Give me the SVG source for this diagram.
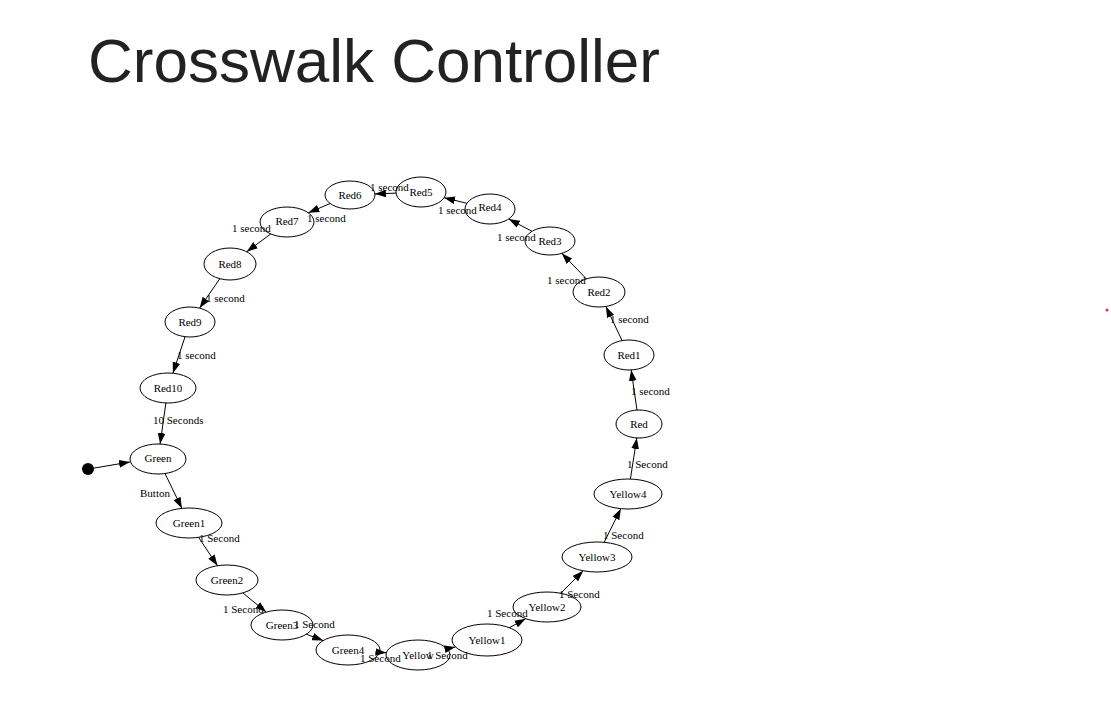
<svg xmlns="http://www.w3.org/2000/svg" width="1111" height="726" viewBox="0 0 1111 726">
<defs>
<style>
.title{font-family:"Liberation Sans",Arial,sans-serif;font-size:62px;fill:#222}
.node ellipse{fill:none;stroke:#000;stroke-width:1}
.node text{font-family:"Liberation Serif","Times New Roman",serif;font-size:11px;fill:#000;text-anchor:middle}
.edges line{stroke:#000;stroke-width:1;marker-end:url(#ah)}
.lbl{font-family:"Liberation Serif","Times New Roman",serif;font-size:11px;fill:#000}
</style>
<marker id="ah" markerUnits="userSpaceOnUse" markerWidth="11" markerHeight="8" viewBox="0 0 10 7" refX="10" refY="3.5" orient="auto">
<path d="M0,0 L10,3.5 L0,7 Z" fill="#000"/>
</marker>
</defs>
<rect width="1111" height="726" fill="#fff"/>
<text class="title" x="88" y="82">Crosswalk Controller</text>
<circle cx="1107" cy="310" r="1.5" fill="#e53935"/>

<g id="edges" class="edges">
<line x1="93.9" y1="468.1" x2="130" y2="462"/>
<line x1="165.9" y1="403" x2="160.1" y2="444"/>
<line x1="165" y1="473.5" x2="181.9" y2="508.4"/>
<line x1="198.6" y1="537.4" x2="217.5" y2="565.7"/>
<line x1="242.8" y1="592.9" x2="266.2" y2="612.1"/>
<line x1="306.4" y1="634.2" x2="323.1" y2="640.6"/>
<line x1="376.6" y1="652.1" x2="386.4" y2="652.7"/>
<line x1="447" y1="648.7" x2="455.4" y2="646.9"/>
<line x1="509.4" y1="627.7" x2="525.7" y2="618.7"/>
<line x1="560.7" y1="593.3" x2="583.2" y2="570.8"/>
<line x1="604.2" y1="542.3" x2="620.8" y2="508.7"/>
<line x1="630.4" y1="479" x2="636.8" y2="437.9"/>
<line x1="637" y1="410.1" x2="631.2" y2="369.9"/>
<line x1="622.1" y1="340.6" x2="605.9" y2="306.5"/>
<line x1="586.4" y1="278.9" x2="561.8" y2="253.3"/>
<line x1="531.9" y1="231.3" x2="508.7" y2="219"/>
<line x1="466.9" y1="203.3" x2="444.1" y2="197.7"/>
<line x1="396.1" y1="193.1" x2="374.9" y2="193.9"/>
<line x1="330.1" y1="203.5" x2="308.4" y2="212.8"/>
<line x1="270.7" y1="234" x2="246.7" y2="251.7"/>
<line x1="219.8" y1="278.7" x2="199.6" y2="308.1"/>
<line x1="185.1" y1="336.7" x2="172.9" y2="373.2"/>
</g>

<g id="edge-labels">
<text class="lbl" x="153" y="424">10 Seconds</text>
<text class="lbl" x="140" y="497">Button</text>
<text class="lbl" x="199" y="542">1 Second</text>
<text class="lbl" x="223" y="613">1 Second</text>
<text class="lbl" x="294" y="628">1 Second</text>
<text class="lbl" x="360" y="662">1 Second</text>
<text class="lbl" x="427" y="659">1 Second</text>
<text class="lbl" x="487" y="617">1 Second</text>
<text class="lbl" x="559" y="598">1 Second</text>
<text class="lbl" x="603" y="539">1 Second</text>
<text class="lbl" x="627" y="468">1 Second</text>
<text class="lbl" x="631" y="395">1 second</text>
<text class="lbl" x="610" y="323">1 second</text>
<text class="lbl" x="547" y="284">1 second</text>
<text class="lbl" x="497" y="241">1 second</text>
<text class="lbl" x="438" y="214">1 second</text>
<text class="lbl" x="370" y="191">1 second</text>
<text class="lbl" x="307" y="222">1 second</text>
<text class="lbl" x="232" y="232">1 second</text>
<text class="lbl" x="206" y="302">1 second</text>
<text class="lbl" x="177" y="359">1 second</text>
</g>

<g id="start"><circle cx="88" cy="469" r="6" fill="#000"/></g>
<g id="Green" class="node"><ellipse cx="158" cy="459" rx="28" ry="15"/><text x="158" y="462">Green</text></g>
<g id="Green1" class="node"><ellipse cx="189" cy="523" rx="33" ry="15"/><text x="189" y="527">Green1</text></g>
<g id="Green2" class="node"><ellipse cx="227" cy="580" rx="31" ry="15"/><text x="227" y="584">Green2</text></g>
<g id="Green3" class="node"><ellipse cx="282" cy="625" rx="31" ry="15"/><text x="282" y="629">Green3</text></g>
<g id="Green4" class="node"><ellipse cx="348" cy="650" rx="32" ry="15"/><text x="348" y="654">Green4</text></g>
<g id="Yellow" class="node"><ellipse cx="418" cy="655" rx="32" ry="15"/><text x="418" y="659">Yellow</text></g>
<g id="Yellow1" class="node"><ellipse cx="487" cy="640" rx="35" ry="16"/><text x="487" y="644">Yellow1</text></g>
<g id="Yellow2" class="node"><ellipse cx="547" cy="607" rx="34" ry="15"/><text x="547" y="611">Yellow2</text></g>
<g id="Yellow3" class="node"><ellipse cx="597" cy="557" rx="35" ry="15"/><text x="597" y="561">Yellow3</text></g>
<g id="Yellow4" class="node"><ellipse cx="628" cy="494" rx="34" ry="15"/><text x="628" y="498">Yellow4</text></g>
<g id="Red" class="node"><ellipse cx="639" cy="424" rx="23" ry="14"/><text x="639" y="428">Red</text></g>
<g id="Red1" class="node"><ellipse cx="629" cy="355" rx="25" ry="15"/><text x="629" y="359">Red1</text></g>
<g id="Red2" class="node"><ellipse cx="599" cy="292" rx="26" ry="15"/><text x="599" y="296">Red2</text></g>
<g id="Red3" class="node"><ellipse cx="550" cy="241" rx="25" ry="14"/><text x="550" y="245">Red3</text></g>
<g id="Red4" class="node"><ellipse cx="490" cy="209" rx="25" ry="15"/><text x="490" y="211">Red4</text></g>
<g id="Red5" class="node"><ellipse cx="421" cy="192" rx="25" ry="15"/><text x="421" y="196">Red5</text></g>
<g id="Red6" class="node"><ellipse cx="350" cy="195" rx="25" ry="14"/><text x="350" y="199">Red6</text></g>
<g id="Red7" class="node"><ellipse cx="287" cy="222" rx="27" ry="15"/><text x="287" y="225">Red7</text></g>
<g id="Red8" class="node"><ellipse cx="230" cy="264" rx="26" ry="16"/><text x="230" y="268">Red8</text></g>
<g id="Red9" class="node"><ellipse cx="190" cy="322" rx="25" ry="15"/><text x="190" y="326">Red9</text></g>
<g id="Red10" class="node"><ellipse cx="168" cy="388" rx="28" ry="15"/><text x="168" y="392">Red10</text></g>
</svg>
